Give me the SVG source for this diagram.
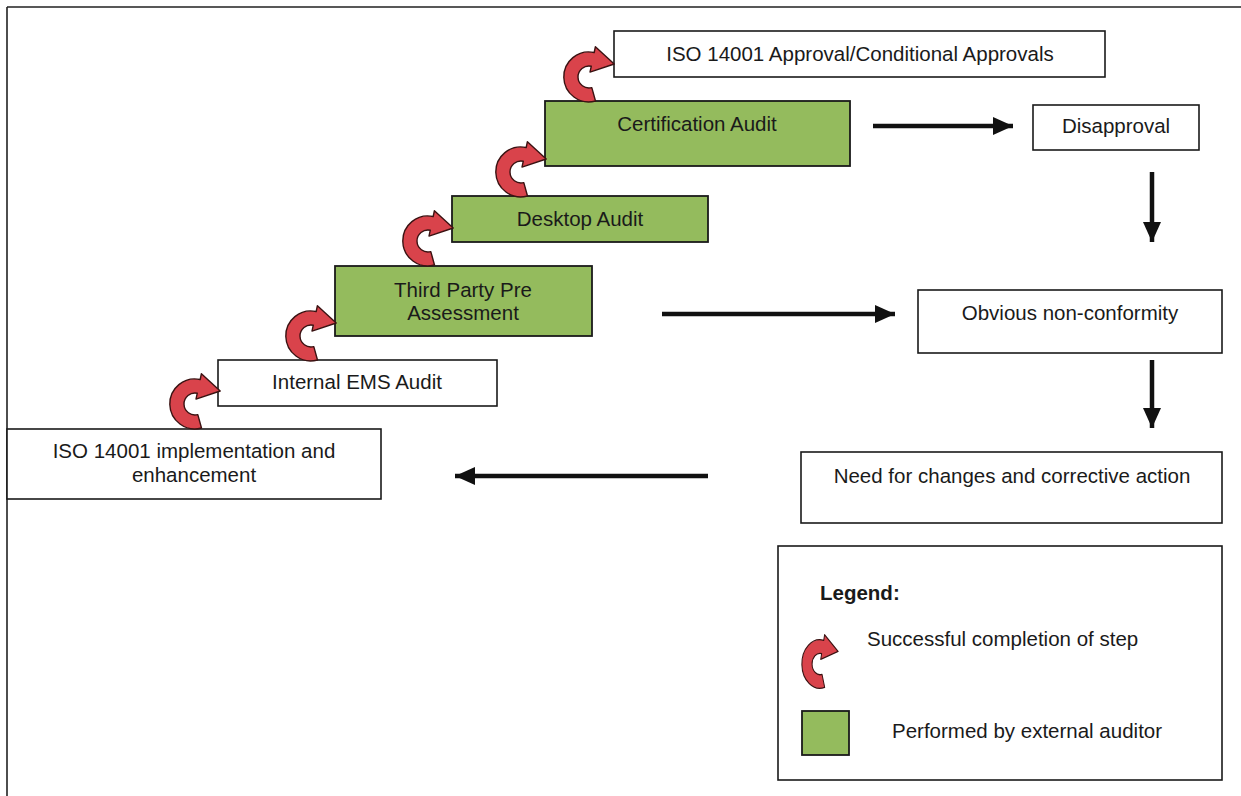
<svg xmlns="http://www.w3.org/2000/svg" width="1241" height="796" viewBox="0 0 1241 796">
<style>
.box{fill:#ffffff;stroke:#1a1a1a;stroke-width:1.6}
.green{fill:#94bb5d;stroke:#1a1a1a;stroke-width:1.8}
.t{font-family:"Liberation Sans",Arial,sans-serif;font-size:20.5px;fill:#1a1a1a;text-anchor:middle}
.tl{font-family:"Liberation Sans",Arial,sans-serif;font-size:20.5px;fill:#1a1a1a}
.conn{stroke:#111;stroke-width:4.5;fill:none;marker-end:url(#ah)}
.frame{stroke:#222;stroke-width:1.6;fill:none}
</style>
<defs>
<marker id="ah" markerUnits="userSpaceOnUse" markerWidth="22" markerHeight="18" refX="20" refY="9" orient="auto">
<path d="M0,0 L20,9 L0,18 Z" fill="#111"/>
</marker>
<path id="curl" d="M31.5,55 A25,25 0 1 1 30.2,6.5 L31.4,0.7 L50.2,18 L26,26.1 L27.3,20.2 A11,11 0 1 0 27.8,41.6 Z" fill="#d9434b" stroke="#3a1212" stroke-width="1.4" stroke-linejoin="round"/>
</defs>
<rect width="1241" height="796" fill="#ffffff"/>
<g id="frame">
<path class="frame" d="M7,7 H1241 M7,7 V796"/>
</g>
<g id="node-iso-impl">
<rect class="box" x="7" y="429" width="374" height="70"/>
<text class="t" x="194" y="458">ISO 14001 implementation and</text>
<text class="t" x="194" y="482">enhancement</text>
</g>
<g id="node-internal">
<rect class="box" x="218" y="360" width="279" height="46"/>
<text class="t" x="357" y="389">Internal EMS Audit</text>
</g>
<g id="node-thirdparty">
<rect class="green" x="335" y="266" width="257" height="70"/>
<text class="t" x="463" y="297">Third Party Pre</text>
<text class="t" x="463" y="320">Assessment</text>
</g>
<g id="node-desktop">
<rect class="green" x="452" y="196" width="256" height="46"/>
<text class="t" x="580" y="226">Desktop Audit</text>
</g>
<g id="node-cert">
<rect class="green" x="545" y="101" width="305" height="65"/>
<text class="t" x="697" y="131">Certification Audit</text>
</g>
<g id="node-approval">
<rect class="box" x="614" y="31" width="491" height="46"/>
<text class="t" x="860" y="61">ISO 14001 Approval/Conditional Approvals</text>
</g>
<g id="node-disapproval">
<rect class="box" x="1033" y="105" width="166" height="45"/>
<text class="t" x="1116" y="133">Disapproval</text>
</g>
<g id="node-nonconformity">
<rect class="box" x="918" y="290" width="304" height="63"/>
<text class="t" x="1070" y="320">Obvious non-conformity</text>
</g>
<g id="node-changes">
<rect class="box" x="801" y="452" width="421" height="71"/>
<text class="t" x="1012" y="483">Need for changes and corrective action</text>
</g>
<g id="curls">
<use href="#curl" transform="translate(170,373)"/>
<use href="#curl" transform="translate(286,305)"/>
<use href="#curl" transform="translate(403,210)"/>
<use href="#curl" transform="translate(496,141)"/>
<use href="#curl" transform="translate(564,46)"/>
</g>
<g id="connectors">
<line class="conn" x1="873" y1="126" x2="1013" y2="126"/>
<line class="conn" x1="1152" y1="172" x2="1152" y2="242"/>
<line class="conn" x1="662" y1="314" x2="895" y2="314"/>
<line class="conn" x1="1152" y1="360" x2="1152" y2="428"/>
<line class="conn" x1="708" y1="476" x2="455" y2="476"/>
</g>
<g id="legend">
<rect class="box" x="778" y="546" width="444" height="234"/>
<text class="tl" x="820" y="600" font-weight="bold" font-size="19">Legend:</text>
<use href="#curl" transform="translate(802,634) scale(0.72,0.97)"/>
<text class="tl" x="867" y="646">Successful completion of step</text>
<rect class="green" x="802" y="711" width="47" height="44"/>
<text class="tl" x="892" y="738">Performed by external auditor</text>
</g>
</svg>
